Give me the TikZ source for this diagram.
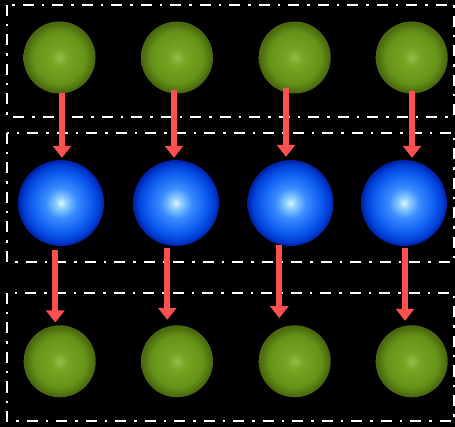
\documentclass[tikz,border=0pt]{standalone}
\usetikzlibrary{arrows.meta,calc}
\definecolor{arrred}{HTML}{FF5050}
\definecolor{gA}{HTML}{93BC4C}
\definecolor{gB}{HTML}{76A524}
\definecolor{gC}{HTML}{659318}
\definecolor{gD}{HTML}{4A6A0E}
\definecolor{bA}{HTML}{E4F5FF}
\definecolor{bB}{HTML}{90D0FF}
\definecolor{bC}{HTML}{3A8CFF}
\definecolor{bD}{HTML}{1060F0}
\definecolor{bE}{HTML}{0040D8}
\definecolor{bF}{HTML}{0020A0}
\pgfdeclareradialshading{greenball}{\pgfpoint{0bp}{0bp}}{color(0bp)=(gA); color(6bp)=(gB); color(18bp)=(gC); color(24bp)=(gD); color(25bp)=(gD); color(50bp)=(gD)}
\pgfdeclareradialshading{blueball}{\pgfpoint{0bp}{0bp}}{color(0bp)=(bA); color(3bp)=(bB); color(9bp)=(bC); color(17bp)=(bD); color(22bp)=(bE); color(25bp)=(bF); color(50bp)=(bF)}
\tikzset{
  gball/.style={circle, minimum size=72pt, inner sep=0pt, shading=greenball},
  bball/.style={circle, minimum size=86pt, inner sep=0pt, shading=blueball},
  boxline/.style={draw=white, line width=2.2pt, dash pattern=on 11pt off 8pt on 2.5pt off 8pt},
  arr/.style={draw=arrred, line width=6pt, -{Triangle[width=18pt,length=12pt]}}
}
\begin{document}
\begin{tikzpicture}[x=1pt,y=-1pt]
\useasboundingbox (0,0) rectangle (455,427);
\fill[black] (0,0) rectangle (455,427);
% boxes
\draw[boxline] (7,5) rectangle (454,117);
\draw[boxline] (7,133) rectangle (454,262);
\draw[boxline] (7,293) rectangle (454,421);
% top green row
\node[gball] (g1) at (59.5,57.5) {};
\node[gball] (g2) at (177,57.5) {};
\node[gball] (g3) at (294.7,57.5) {};
\node[gball] (g4) at (411.7,57.5) {};
% blue row
\node[bball] (b1) at (61,203) {};
\node[bball] (b2) at (176,203) {};
\node[bball] (b3) at (290.5,203) {};
\node[bball] (b4) at (404,203) {};
% bottom green row
\node[gball] (h1) at (59.7,361.3) {};
\node[gball] (h2) at (177,361.3) {};
\node[gball] (h3) at (294.7,361.3) {};
\node[gball] (h4) at (411.7,361.3) {};
% arrows row 1
\draw[arr] ($(g1.south)+(2.5,-1)$) -- ($(b1.north)+(1,-2)$);
\draw[arr] ($(g2.south)+(-3,-3.5)$) -- ($(b2.north)+(-2,-2)$);
\draw[arr] ($(g3.south)+(-8.7,-5.5)$) -- ($(b3.north)+(-4.5,-3)$);
\draw[arr] ($(g4.south)+(0.3,-2.5)$) -- ($(b4.north)+(8,-2)$);
% arrows row 2
\draw[arr] ($(b1.south)+(-5.7,4)$) -- ($(h1.north)+(-4.4,-2.6)$);
\draw[arr] ($(b2.south)+(-8.7,1.7)$) -- ($(h2.north)+(-9.7,-5.3)$);
\draw[arr] ($(b3.south)+(-11.2,-1)$) -- ($(h3.north)+(-15.4,-7)$);
\draw[arr] ($(b4.south)+(1,2.3)$) -- ($(h4.north)+(-6.7,-4.3)$);
\end{tikzpicture}
\end{document}
